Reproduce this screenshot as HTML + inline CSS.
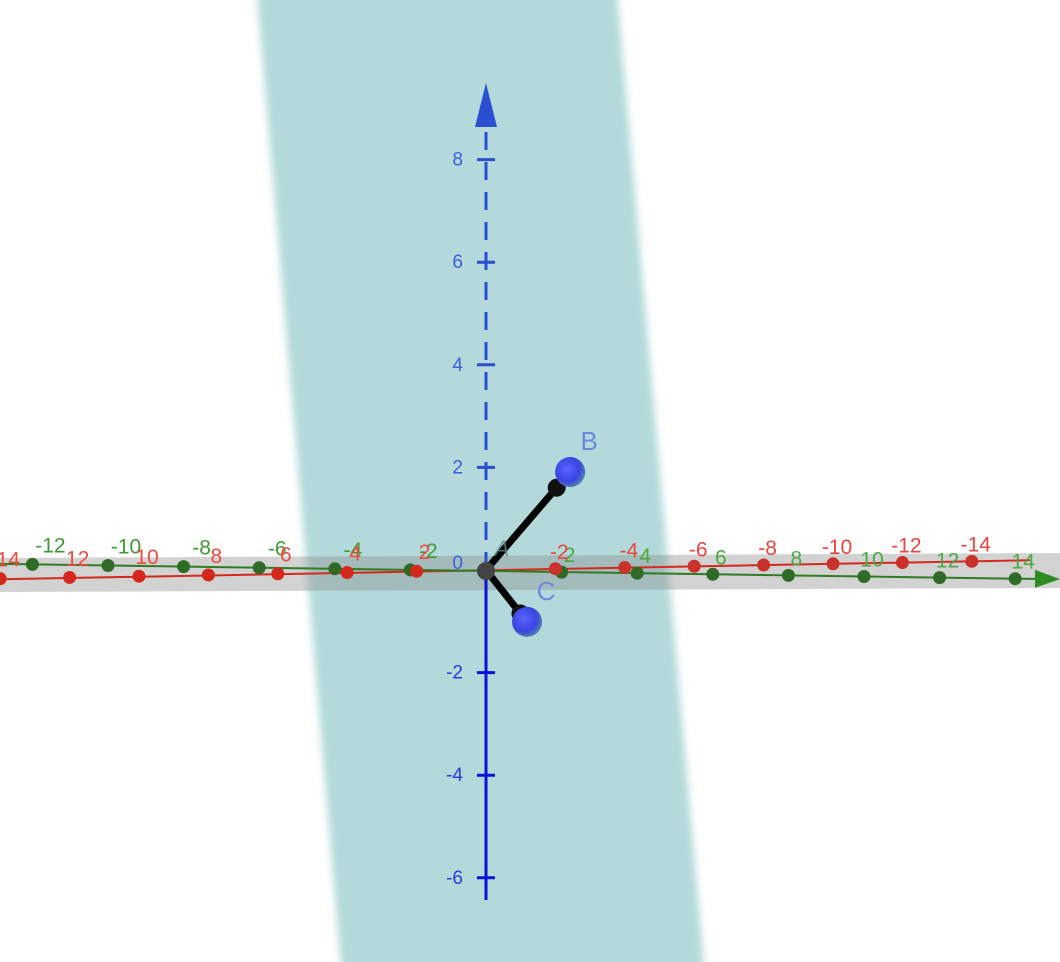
<!DOCTYPE html>
<html><head><meta charset="utf-8">
<style>
html,body{margin:0;padding:0;background:#fff;}
svg{display:block;font-family:"Liberation Sans",sans-serif;}
</style></head>
<body>
<svg id="chart" width="1060" height="962" viewBox="0 0 1060 962" xmlns="http://www.w3.org/2000/svg">
<defs>
<filter id="soft" x="-0.2" y="-0.1" width="1.4" height="1.2"><feGaussianBlur stdDeviation="4"/></filter>
<radialGradient id="ball" cx="0.4" cy="0.4" r="0.6">
<stop offset="0" stop-color="#5a66ff"/>
<stop offset="0.7" stop-color="#3a44e0"/>
<stop offset="1" stop-color="#4e7ab8"/>
</radialGradient>
</defs>
<g id="plane">
<polygon points="254,-40 614,-40 707,1000 344,1000" fill="#b3d9da" filter="url(#soft)"/>
</g>
<polygon points="0,558 1060,553 1060,588 0,592" fill="#8f8f8f" opacity="0.4"/>
<g id="axes"></g>
</svg>
<script>
const redLeftVals = [14,12,10,8,6,4,2];
const redRightVals = [-2,-4,-6,-8,-10,-12,-14];
const greenLeftVals = [-12,-10,-8,-6,-4,-2];
const greenRightVals = [2,4,6,8,10,12,14];
const zTicks = [8,6,4,2,0,-2,-4,-6];
const pointB = {label:"B", u:1.64, v:1.91};
const pointC = {label:"C", u:0.8, v:-1.01};

const NS="http://www.w3.org/2000/svg";
const g=document.getElementById('axes');
function mk(tag,attrs,parent){const e=document.createElementNS(NS,tag);for(const k in attrs)e.setAttribute(k,attrs[k]);(parent||g).appendChild(e);return e;}
const OX=486, OY=570;
function redX(v){return OX - v*34.7;}
function redY(v){return OY + v*0.62;}
function greenX(v){return OX + v*37.8;}
function greenY(v){return OY + v*0.55 + 1;}
function zY(v){return OY - v*51.3;}
function scrX(u){return OX + u*51.3;}
function scrY(v){return OY - v*51.3;}

let l=mk('line',{x1:0,y1:redY(15),x2:1030,y2:redY(-15.8),stroke:'#d42a1e','stroke-width':2});


let gl=mk('line',{x1:0,y1:greenY(-12.9),x2:1040,y2:greenY(14.6),stroke:'#2e7d22','stroke-width':2});


let ga=mk('polygon',{points:`1035,${greenY(14.1)-9} 1060,${greenY(14.7)} 1035,${greenY(14.1)+9}`,fill:'#2e8b22'});



function tickPoint(x,y,fill,label,lcol,name,lx,ly){
  const c=mk('circle',{cx:x,cy:y,r:6.5,fill:fill});
  
  
  const t=mk('text',{x:x+lx,y:y+ly,fill:lcol,'font-size':21,'text-anchor':'middle'});
  t.textContent=label;
  
  
}
greenLeftVals.forEach(v=>tickPoint(greenX(v),greenY(v),'#2f6b27',v,'#3f9a36','y-tick-'+v,18,-12));
greenRightVals.forEach(v=>tickPoint(greenX(v),greenY(v),'#2f6b27',v,'#4aa83f','y-tick-'+v,8,-10));
redLeftVals.forEach(v=>tickPoint(redX(v),redY(v),'#d5281c',v,'#ee4a40','x-tick-'+v,8,-12));
redRightVals.forEach(v=>tickPoint(redX(v),redY(v),'#c8322a',v,'#e8463d','x-tick-'+v,4,-10));

let zd=mk('line',{x1:OX,y1:OY,x2:OX,y2:125,stroke:'#2a4fd0','stroke-width':3,'stroke-dasharray':'18,12'});


let zs=mk('line',{x1:OX,y1:OY,x2:OX,y2:900,stroke:'#0a14d8','stroke-width':3});


let za=mk('polygon',{points:`475,127 486,83 497,127`,fill:'#2a4fd0'});


zTicks.forEach(v=>{
  const y=zY(v);
  if(v!==0){const t=mk('line',{x1:OX-9,y1:y,x2:OX+9,y2:y,stroke:v>0?'#2a4fd0':'#0a14d8','stroke-width':3});
  
  }
  const tx=mk('text',{x:463,y:y+(v===0?-1:6),fill:v>=0?'#3e5ee0':'#2a3ad8','font-size':19,'text-anchor':'end'});
  tx.textContent=v;
  
  
});

[pointB,pointC].forEach(p=>{
  const x=scrX(p.u), y=scrY(p.v);
  const ln=mk('line',{x1:OX,y1:OY,x2:x-(x-OX)*0.1,y2:y-(y-OY)*0.1,stroke:'#000','stroke-width':7});
  
  
  const hd=mk('circle',{cx:x-(x-OX)*0.16,cy:y-(y-OY)*0.16,r:9,fill:'#111'});
  
  
  const b=mk('circle',{cx:x,cy:y,r:15,fill:'url(#ball)'});
  
  
  const t=mk('text',{x:x+19,y:y-22,fill:'#6a8ae0','font-size':26,'text-anchor':'middle'});
  t.textContent=p.label;
  
  
});
const a=mk('circle',{cx:OX,cy:OY+1,r:9,fill:'#444'});


const at=mk('text',{x:502,y:556,fill:'#5c8a8a','font-size':22,'font-style':'italic','text-anchor':'middle','opacity':0.8});
at.textContent='A';


</script>
</body></html>
